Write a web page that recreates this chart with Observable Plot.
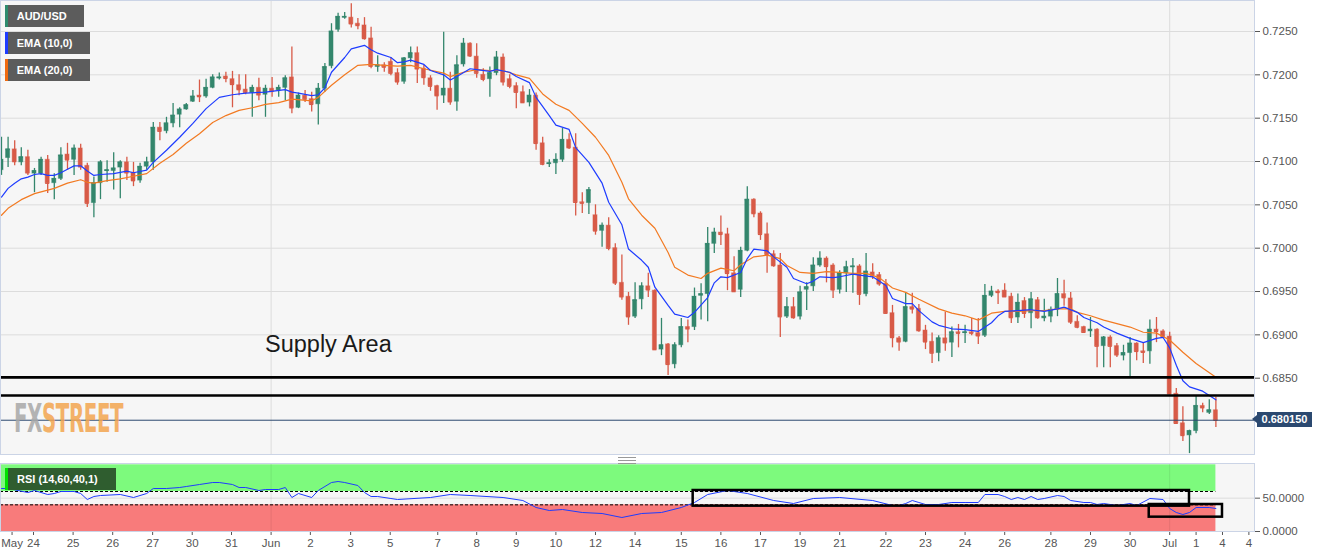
<!DOCTYPE html>
<html><head><meta charset="utf-8">
<script src="https://cdn.jsdelivr.net/npm/d3@7"></script>
<script src="https://cdn.jsdelivr.net/npm/@observablehq/plot@0.6"></script>
<style>
body{margin:0;background:#fff;font-family:"Liberation Sans",Arial,sans-serif}
#wrap{position:relative;width:1331px;height:558px;overflow:hidden;background:#fff}
#main,#rsi{position:absolute;left:0}
#main{top:0}#rsi{top:463px}
.lg{position:absolute;height:22px;background:#5c5c5c;color:#fff;font-size:11px;font-weight:bold;line-height:22px;padding-left:12px;box-sizing:border-box;white-space:nowrap}
.lg i{position:absolute;left:0;top:0;width:3px;height:22px}
#supply{position:absolute;left:265px;top:331px;font-size:23.5px;color:#1a1a1a;white-space:nowrap}
#price{position:absolute;left:1257px;width:55px;height:15px;background:#2b4970;color:#fff;font-size:11px;font-weight:bold;line-height:15px;text-align:center}
#price:before{content:"";position:absolute;left:-5px;top:3px;border-top:4.5px solid transparent;border-bottom:4.5px solid transparent;border-right:5px solid #2b4970}
#handle{position:absolute;left:618px;top:457px;width:18px;height:5px;border-top:1px solid #999;border-bottom:1px solid #999}
#handle:after{content:"";position:absolute;left:0;right:0;top:2px;border-top:1px solid #999}
#wm{position:absolute;left:14px;top:397px;font-family:"DejaVu Sans Condensed","DejaVu Sans",sans-serif;font-weight:bold;font-size:22px;line-height:26px;letter-spacing:-0.4px;white-space:nowrap;transform:scaleY(1.75);transform-origin:top left;opacity:0.85}
</style></head>
<body>
<div id="wrap">
  <div id="main"></div>
  <div id="rsi"></div>
</div>
<script>
// ---------- data ----------
const open = [
.7090,.7104,.7114,.7099,.7105,.7086,.7086,.7102,.7075,.7080,
.7108,.7102,.7115,.7095,.7052,.7075,.7089,.7089,.7093,.7099,
.7087,.7078,.7094,.7099,.7139,.7135,.7144,.7154,.7160,.7169,
.7176,.7175,.7185,.7196,.7198,.7195,.7188,.7183,.7179,.7185,
.7177,.7184,.7182,.7185,.7197,.7162,.7176,.7172,.7166,.7184,
.7210,.7252,.7266,.7266,.7259,.7257,.7242,.7209,.7211,.7215,
.7202,.7192,.7219,.7225,.7207,.7196,.7187,.7176,.7184,.7169,
.7212,.7236,.7221,.7200,.7195,.7202,.7220,.7195,.7187,.7180,
.7168,.7176,.7121,.7097,.7098,.7102,.7125,.7116,.7053,.7052,
.7038,.7020,.7026,.7000,.6960,.6944,.6921,.6941,.6956,.6951,
.6883,.6889,.6866,.6888,.6909,.6909,.6945,.6947,.7005,.7018,
.7016,.6971,.6952,.6997,.7056,.7040,.7016,.6993,.6980,.6921,
.6932,.6921,.6952,.6956,.6980,.6988,.6980,.6952,.6971,.6978,
.6979,.6947,.6972,.6969,.6959,.6925,.6896,.6892,.6932,.6930,
.6905,.6892,.6879,.6896,.6891,.6903,.6902,.6903,.6902,.6899,
.6945,.6950,.6951,.6944,.6920,.6939,.6925,.6940,.6919,.6921,
.6929,.6947,.6942,.6915,.6909,.6904,.6906,.6887,.6897,.6887,
.6876,.6879,.6890,.6881,.6881,.6906,.6904,.6898,.6832,.6798,
.6784,.6789,.6818,.6810,.6813];
const high = [
.7128,.7128,.7124,.7116,.7113,.7092,.7105,.7107,.7086,.7116,
.7121,.7119,.7120,.7098,.7082,.7101,.7101,.7110,.7101,.7105,
.7099,.7098,.7105,.7145,.7145,.7151,.7167,.7162,.7167,.7182,
.7194,.7195,.7200,.7202,.7203,.7204,.7200,.7200,.7188,.7196,
.7188,.7197,.7188,.7199,.7232,.7179,.7182,.7180,.7190,.7213,
.7259,.7271,.7272,.7282,.7265,.7266,.7255,.7222,.7214,.7220,
.7207,.7220,.7232,.7232,.7211,.7199,.7188,.7249,.7203,.7222,
.7242,.7237,.7236,.7207,.7209,.7227,.7224,.7200,.7191,.7187,
.7183,.7179,.7128,.7102,.7109,.7138,.7132,.7132,.7064,.7070,
.7050,.7029,.7035,.7005,.6992,.6949,.6960,.6960,.6971,.6952,
.6919,.6890,.6891,.6919,.6917,.6954,.6959,.7024,.7023,.7037,
.7023,.6990,.7001,.7071,.7057,.7042,.7029,.6997,.6994,.6943,
.6943,.6956,.6960,.6989,.6996,.6990,.6982,.6974,.6985,.6988,
.6981,.6994,.6982,.6972,.6964,.6934,.6898,.6948,.6948,.6935,
.6911,.6902,.6899,.6926,.6909,.6912,.6911,.6919,.6919,.6958,
.6956,.6952,.6959,.6948,.6947,.6943,.6949,.6943,.6941,.6932,
.6965,.6963,.6949,.6922,.6910,.6920,.6907,.6898,.6899,.6890,
.6888,.6897,.6891,.6891,.6917,.6920,.6906,.6903,.6838,.6817,
.6790,.6829,.6821,.6825,.6828];
const low = [
.7084,.7093,.7095,.7095,.7084,.7064,.7084,.7063,.7056,.7078,
.7090,.7084,.7090,.7047,.7035,.7056,.7076,.7067,.7057,.7078,
.7071,.7075,.7090,.7090,.7124,.7132,.7139,.7139,.7159,.7168,
.7168,.7173,.7184,.7194,.7191,.7162,.7176,.7177,.7151,.7170,
.7151,.7174,.7174,.7170,.7155,.7161,.7168,.7157,.7142,.7180,
.7207,.7249,.7264,.7254,.7252,.7240,.7207,.7203,.7203,.7199,
.7188,.7189,.7214,.7190,.7188,.7181,.7159,.7167,.7165,.7158,
.7209,.7220,.7196,.7192,.7174,.7199,.7187,.7184,.7161,.7167,
.7163,.7113,.7095,.7093,.7085,.7099,.7114,.7037,.7040,.7039,
.7015,.7001,.6997,.6957,.6940,.6911,.6919,.6929,.6943,.6882,
.6876,.6853,.6861,.6885,.6891,.6905,.6917,.6915,.6994,.7003,
.6951,.6949,.6943,.6996,.7035,.7009,.6971,.6978,.6897,.6919,
.6918,.6917,.6928,.6950,.6978,.6960,.6942,.6947,.6949,.6948,
.6934,.6944,.6964,.6956,.6924,.6885,.6881,.6891,.6924,.6903,
.6883,.6867,.6869,.6881,.6874,.6885,.6890,.6899,.6889,.6897,
.6943,.6935,.6944,.6913,.6913,.6919,.6907,.6918,.6915,.6914,
.6921,.6933,.6912,.6907,.6902,.6897,.6862,.6862,.6862,.6874,
.6870,.6852,.6870,.6867,.6866,.6891,.6897,.6831,.6797,.6777,
.6763,.6786,.6810,.6808,.6793];
const close = [
.7102,.7114,.7100,.7105,.7087,.7089,.7102,.7075,.7080,.7107,
.7102,.7115,.7094,.7052,.7075,.7099,.7090,.7092,.7099,.7087,
.7078,.7094,.7099,.7139,.7135,.7144,.7153,.7160,.7165,.7175,
.7175,.7185,.7197,.7197,.7196,.7189,.7183,.7180,.7185,.7177,
.7184,.7181,.7185,.7196,.7162,.7176,.7172,.7166,.7184,.7209,
.7250,.7267,.7267,.7259,.7257,.7242,.7210,.7211,.7209,.7202,
.7192,.7219,.7225,.7207,.7197,.7187,.7176,.7184,.7169,.7211,
.7236,.7222,.7202,.7195,.7202,.7220,.7192,.7187,.7180,.7168,
.7176,.7121,.7097,.7098,.7102,.7125,.7116,.7053,.7052,.7067,
.7020,.7026,.7000,.6960,.6944,.6921,.6940,.6956,.6952,.6883,
.6888,.6866,.6888,.6909,.6907,.6944,.6947,.7005,.7018,.7016,
.6971,.6950,.6997,.7056,.7040,.7016,.6993,.6980,.6921,.6932,
.6920,.6949,.6955,.6980,.6988,.6979,.6952,.6971,.6978,.6979,
.6947,.6973,.6969,.6959,.6925,.6897,.6892,.6932,.6930,.6905,
.6892,.6879,.6896,.6891,.6903,.6902,.6903,.6902,.6899,.6945,
.6950,.6949,.6944,.6920,.6937,.6925,.6941,.6920,.6921,.6929,
.6947,.6943,.6915,.6909,.6903,.6906,.6887,.6897,.6887,.6877,
.6879,.6890,.6881,.6880,.6906,.6904,.6898,.6832,.6798,.6784,
.6789,.6818,.6816,.6813,.68015];

const ema10Idx = [0,1,2,3,4,5,6,7,8,9,10,11,12,13,14,15,17,19,20,22,23,25,27,29,31,33,35,37,40,43,44,45,47,48,49,50,52,53,55,56,57,59,60,61,62,64,65,67,68,69,71,72,74,75,77,78,80,81,83,84,86,87,89,91,92,94,95,97,98,99,101,102,104,105,107,108,109,110,112,113,114,116,117,119,120,122,123,124,126,127,129,130,132,134,135,137,138,139,141,142,144,146,148,150,151,152,154,156,158,160,161,163,164,166,167,169,171,173,175,176,177,178,179,180,182,184];
const ema10 = [.7059,.7069,.7075,.7080,.7082,.7085,.7086,.7084,.7084,.7087,.7091,.7095,.7095,.7089,.7084,.7085,.7086,.7089,.7087,.7090,.7099,.7113,.7128,.7144,.7161,.7174,.7177,.7179,.7180,.7183,.7180,.7179,.7176,.7177,.7185,.7203,.7220,.7230,.7234,.7229,.7225,.7220,.7214,.7215,.7217,.7212,.7205,.7200,.7194,.7198,.7207,.7206,.7204,.7206,.7203,.7198,.7191,.7174,.7153,.7142,.7137,.7116,.7099,.7075,.7053,.7027,.6999,.6986,.6978,.6955,.6934,.6924,.6920,.6926,.6943,.6960,.6967,.6966,.6972,.6988,.6999,.6997,.6990,.6978,.6965,.6959,.6962,.6967,.6966,.6967,.6970,.6969,.6967,.6957,.6942,.6936,.6936,.6928,.6915,.6911,.6907,.6906,.6904,.6914,.6922,.6927,.6928,.6929,.6927,.6930,.6932,.6926,.6920,.6914,.6909,.6902,.6896,.6891,.6896,.6897,.6885,.6865,.6847,.6840,.6835,.6825];

const ema20Idx = [0,1,3,5,6,8,10,12,13,14,16,18,20,22,24,26,28,30,32,34,36,38,40,42,44,47,48,50,52,54,56,58,60,62,64,67,68,70,72,74,76,78,80,82,84,86,88,90,92,94,95,97,99,101,102,104,106,107,109,111,112,114,116,118,119,121,123,125,127,129,131,133,135,137,139,142,144,146,148,150,152,154,156,158,160,162,163,165,167,169,171,173,175,177,179,181,184];
const ema20 = [.7038,.7046,.7056,.7063,.7065,.7069,.7075,.7079,.7076,.7075,.7078,.7080,.7083,.7086,.7098,.7108,.7121,.7132,.7145,.7153,.7159,.7162,.7166,.7168,.7172,.7170,.7174,.7188,.7200,.7211,.7212,.7211,.7210,.7211,.7207,.7202,.7198,.7203,.7206,.7205,.7205,.7200,.7196,.7178,.7166,.7159,.7144,.7128,.7107,.7076,.7057,.7038,.7023,.6995,.6978,.6969,.6965,.6971,.6977,.6974,.6981,.6990,.6992,.6988,.6980,.6972,.6971,.6973,.6972,.6971,.6971,.6966,.6954,.6949,.6941,.6930,.6925,.6922,.6917,.6925,.6927,.6927,.6928,.6928,.6930,.6930,.6926,.6922,.6917,.6913,.6909,.6903,.6902,.6894,.6880,.6867,.6851];

const rsiIdx = [0,1,4,5,7,8,9,11,12,13,14,15,18,20,22,23,25,27,28,30,32,33,35,36,37,39,40,42,43,44,45,47,48,50,51,52,54,55,56,57,59,60,65,68,71,76,79,81,83,85,88,91,94,97,100,103,105,107,110,113,117,120,123,127,132,135,136,137,138,139,140,142,144,146,148,149,151,152,153,154,155,156,157,158,160,161,162,164,165,166,167,169,171,172,174,176,177,178,179,180,181,183,184];
const rsiVal = [64.5,64.5,58.5,61.5,55.5,57,60,60,57,48,52.5,54,55.5,51,57,64.5,64.5,66,67.5,70.5,73.5,73.5,70.5,66,66,61.5,63,63,66,51,57,51,61.5,73.5,75,73.5,69,58.5,52.5,52.5,49.5,48,51,55.5,54,51,46.5,36,31.5,33,28.5,27,21,27,28.5,36,43.5,55.5,61.5,57,46.5,42,49.5,51,46.5,39,39,42,46.5,43.5,40.5,40.5,43.5,43.5,43.5,55.5,55.5,52.5,48,51,48,52.5,48,49.5,54,52.5,46.5,43.5,43.5,40.5,42,39,42,39,49.5,48,34.5,28.5,25.5,28.5,36,36,34.5];

const yTicks = [0.6850,0.6900,0.6950,0.7000,0.7050,0.7100,0.7150,0.7200,0.7250];
const supplyLevels = [0.6851, 0.6830];
const monthIdx = [40.85, 177];
const xTickIdx = [1.6,4.85,10.85,16.85,22.9,28.9,34.85,40.85,46.8,52.9,58.9,66.1,72,78,84,90,96,103,109,115,121,127,134,140,146,152,159,165,171,177,181,185,189];
const xTickLabels = ["May","24","25","26","27","30","31","Jun","2","3","5","7","8","9","10","12","14","15","16","17","19","21","22","23","24","26","28","29","30","Jul","1","4","4"];
const rsiBands = [{lo:60, hi:100, fill:"#7dfa7d"},{lo:0, hi:40, fill:"#f87b7b"}];
const rsiBoxes = [{i1:104.8,i2:180,lo:38,hi:61.5},{i1:173.9,i2:185,lo:21.5,hi:40.5}];

// ---------- build ----------
const GREEN = "#33866c", RED = "#d85a47";
const candles = open.map((o,i)=>({i, open:o, high:high[i], low:low[i], close:close[i]}));
const ups = candles.filter(d=>d.close>=d.open), downs = candles.filter(d=>d.close<d.open);
const lastIdx = candles.length-1, lastClose = close[lastIdx];
const xDom = [-0.15, 189.85];
const hw = 0.31;
const font = {fontFamily:"'Liberation Sans', Arial, sans-serif", fontSize:"11.5px", color:"#555", background:"transparent"};

function candleMarks(data, col){
  return [
    Plot.ruleX(data,{x:"i", y1:"low", y2:"high", stroke:col, strokeWidth:1.3}),
    Plot.rect(data,{x1:d=>d.i-hw, x2:d=>d.i+hw, y1:"open", y2:"close", fill:col, stroke:col, strokeOpacity:0.45, strokeWidth:1}),
    Plot.ruleY(data,{y:"close", x1:d=>d.i-hw, x2:d=>d.i+hw, stroke:col, strokeWidth:1.5})
  ];
}

const main = Plot.plot({
  width:1331, height:455, marginLeft:0, marginRight:77, marginTop:0, marginBottom:1,
  style:font,
  x:{domain:xDom, axis:null},
  y:{domain:[0.676196,0.728577], axis:null},
  marks:[
    Plot.frame({fill:"#f6f6f6", stroke:null}),
    Plot.gridY(yTicks,{stroke:"#dcdcdc", strokeOpacity:1}),
    Plot.ruleX(monthIdx,{stroke:"#dcdcdc"}),
    Plot.axisY(yTicks,{anchor:"right", tickFormat:d3.format(".4f"), tickSize:5, tickPadding:3, color:"#555"}),
    ...candleMarks(ups, GREEN),
    ...candleMarks(downs, RED),
    Plot.line(ema20Idx.map((x,k)=>({x, y:ema20[k]})),{x:"x", y:"y", stroke:"#f27a22", strokeWidth:1.2}),
    Plot.line(ema10Idx.map((x,k)=>({x, y:ema10[k]})),{x:"x", y:"y", stroke:"#1e3cff", strokeWidth:1.2}),
    Plot.ruleY(supplyLevels,{stroke:"#000", strokeWidth:2.6}),
    Plot.ruleY([lastClose],{stroke:"#2b4970", strokeWidth:1}),
    Plot.frame({stroke:"#cbd4e6"})
  ]
});
document.getElementById("main").appendChild(main);

const labelMap = new Map(xTickIdx.map((d,k)=>[d, xTickLabels[k]]));
const rsi = Plot.plot({
  width:1331, height:95, marginLeft:0, marginRight:77, marginTop:0, marginBottom:27,
  style:font,
  x:{domain:xDom, axis:null},
  y:{domain:[0,102], axis:null},
  marks:[
    Plot.frame({fill:"#f6f6f6", stroke:null}),
    Plot.ruleY([50],{stroke:"#dcdcdc"}),
    Plot.rect(rsiBands,{x1:xDom[0], x2:lastIdx, y1:"lo", y2:"hi", fill:"fill"}),
    Plot.ruleY([60,40],{x1:xDom[0], x2:lastIdx, stroke:"#000", strokeWidth:1, strokeDasharray:"3,2"}),
    Plot.ruleX(monthIdx,{stroke:"#000", strokeOpacity:0.08}),
    Plot.line(rsiIdx.map((x,k)=>({x, y:rsiVal[k]})),{x:"x", y:"y", stroke:"#1e3cff", strokeWidth:1}),
    Plot.rect(rsiBoxes,{x1:"i1", x2:"i2", y1:"lo", y2:"hi", fill:"none", stroke:"#000", strokeWidth:2.5}),
    Plot.axisY([0,50],{anchor:"right", tickFormat:d3.format(".4f"), tickSize:5, tickPadding:3, color:"#555"}),
    Plot.axisX(xTickIdx,{anchor:"bottom", tickFormat:d=>labelMap.get(d), tickSize:4, tickPadding:3, color:"#555"}),
    Plot.frame({stroke:"#cbd4e6"})
  ]
});
document.getElementById("rsi").appendChild(rsi);

// ---------- overlays ----------
const wrap = document.getElementById("wrap");
function add(html){ const t=document.createElement("div"); t.innerHTML=html; const el=t.firstElementChild; wrap.appendChild(el); return el; }
add(`<div class="lg" style="left:4.7px;top:5px;width:79.3px"><i style="background:#2e8b6e"></i>AUD/USD</div>`);
add(`<div class="lg" style="left:4.7px;top:32px;width:85.3px"><i style="background:#1e3cff"></i>EMA (10,0)</div>`);
add(`<div class="lg" style="left:4.7px;top:59px;width:85.3px"><i style="background:#f06a10"></i>EMA (20,0)</div>`);
add(`<div class="lg" style="left:5px;top:468px;width:111px;background:#2f5d2f"><i style="background:#00e000"></i>RSI (14,60,40,1)</div>`);
add(`<div id="supply">Supply Area</div>`);
const py = main.scale("y").apply(lastClose);
const p = add(`<div id="price">${lastClose.toFixed(6)}</div>`);
p.style.top = (py - 7.5) + "px";
add(`<div id="handle"></div>`);
add(`<div id="wm"><span style="color:#a8a8a8">FX</span><span style="color:#f3a550">STREET</span></div>`);
</script>
</body></html>
